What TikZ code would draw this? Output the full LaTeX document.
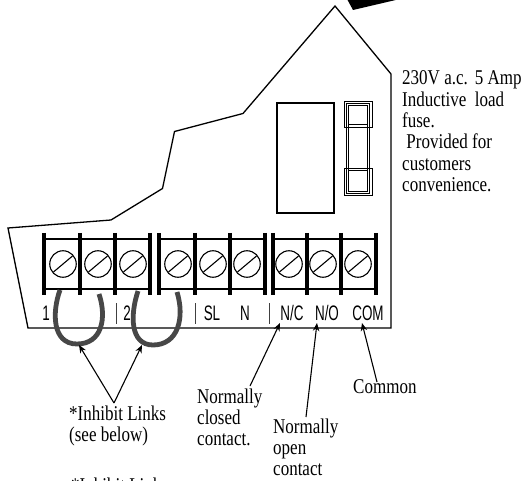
\documentclass[tikz,border=0pt]{standalone}
\usepackage{fontspec}
\setmainfont{Liberation Serif}
\newfontfamily\notefont[FakeStretch=.81]{Liberation Serif}
\newfontfamily\termfont[FakeStretch=.64]{Liberation Sans}
\usetikzlibrary{arrows.meta}
\newcommand{\notelines}[1]{\parbox[t]{125pt}{\raggedright\setlength{\parindent}{0pt}#1}}
\tikzset{
  x=1pt,y=-1pt,
  outline/.style={draw=black,line width=1.3pt,line join=miter},
  bar/.style={line width=4pt},
  rail/.style={line width=2.4pt},
  screw/.style={circle,draw=black,line width=1.1pt,minimum size=26.5pt,inner sep=0pt},
  link/.style={draw=black!72,line width=4.8pt},
  pointer/.style={line width=1.1pt,-{Stealth[length=8pt,width=6.5pt]}},
  note/.style={anchor=base west,inner sep=0pt,font=\notefont\fontsize{21}{21.3}\selectfont},
  term/.style={anchor=base,inner sep=0pt,font=\termfont\fontsize{21}{22}\selectfont},
  divider/.style={line width=.7pt,draw=black!75},
}
\begin{document}
\begin{tikzpicture}
\useasboundingbox (0,0) rectangle (522,481);
\clip (0,0) rectangle (522,481);
\fill[white] (0,0) rectangle (522,481);
% housing
\draw[outline] (8,228) -- (111,220) -- (162.5,188.5) -- (174.5,131.5) -- (243,113.5) -- (335,6) -- (391,74) -- (391,328) -- (28,328) -- cycle;
% black wedge at top
\fill[black] (347,-1) -- (353,10) -- (400,-1) -- cycle;
% relay
\draw[line width=1.6pt] (277,103) rectangle (334,213);
% fuse
\draw[line width=.8pt] (344,101) rectangle (372,127);
\draw[line width=.8pt] (344,168) rectangle (372,195);
\draw[line width=.8pt] (346.5,103) rectangle (369.5,193);
\draw[line width=.8pt] (348.5,105) rectangle (367.5,191);
\draw[line width=.8pt] (348.5,124.5) -- (367.5,124.5);
\draw[line width=.8pt] (348.5,170) -- (367.5,170);
% terminal blocks
\foreach \xa/\xb in {44/150,159/265,273/376}{
  \draw[rail] (\xa,239) -- (\xb,239);
  \draw[rail] (\xa,289) -- (\xb,289);
}
\foreach \xx in {44,80,115,150,159,195,230,265,273,307,341,376}{
  \draw[bar] (\xx,233) -- (\xx,295);
}
% screws
\foreach \n/\xx in {a/63,b/98,c/133,d/178,e/213,f/247,g/289,h/323,i/358}{
  \node[screw] (s\n) at (\xx,264) {};
  \draw[line width=1.1pt] (\xx-9.5,264+8) -- (\xx+9.5,264-8);
}
% terminal labels
\node[term] (t1) at (46,320) {1};
\node[term] (t2) at (127,320) {2};
\node[term] (tsl) at (212,320) {SL};
\node[term] (tn) at (245,320) {N};
\node[term] (tnc) at (292,320) {N/C};
\node[term] (tno) at (327,320) {N/O};
\node[term] (tcom) at (368,320) {COM};
\draw[divider] (116,303) -- (116,324);
\draw[divider] (195,303) -- (195,324);
\draw[divider] (269,303) -- (269,324);
% inhibit links
\draw[link] (60,290) .. controls (52,312) and (52,344) .. (77,344) .. controls (102,344) and (107,318) .. (99,294);
\draw[link] (138,291) .. controls (130,315) and (130,345) .. (153,345) .. controls (178,345) and (185,318) .. (177,292);
% pointers
\coordinate (linkjoin) at (114,403);
\coordinate (tipa) at (79,345);
\coordinate (tipb) at (142,345);
\coordinate (ncfoot) at (250,386);
\coordinate (nctip) at (280,323);
\coordinate (nofoot) at (306,417);
\coordinate (notip) at (317,323);
\coordinate (comfoot) at (377,382);
\coordinate (comtip) at (362,323);
\draw[pointer] (linkjoin) -- (tipa);
\draw[pointer] (linkjoin) -- (tipb);
\draw[pointer] (ncfoot) -- (nctip);
\draw[pointer] (nofoot) -- (notip);
\draw[pointer] (comfoot) -- (comtip);
% notes
\node[note] (fuse) at (402,85) {\notelines{230V a.c.\ \kern-1.5pt\ 5 Amp\\Inductive\ \ load\\fuse.\\\ Provided for\\customers\\convenience.}};
\node[note] (links) at (69,420) {\notelines{*Inhibit Links\\(see below)}};
\node[note] (nc) at (197,403) {\notelines{Normally\\closed\\contact.}};
\node[note] (no) at (273,433) {\notelines{Normally\\open\\contact}};
\node[note] (com) at (353,393) {Common};
\node[note] (links2) at (71,492) {*Inhibit Links};
\end{tikzpicture}
\end{document}
